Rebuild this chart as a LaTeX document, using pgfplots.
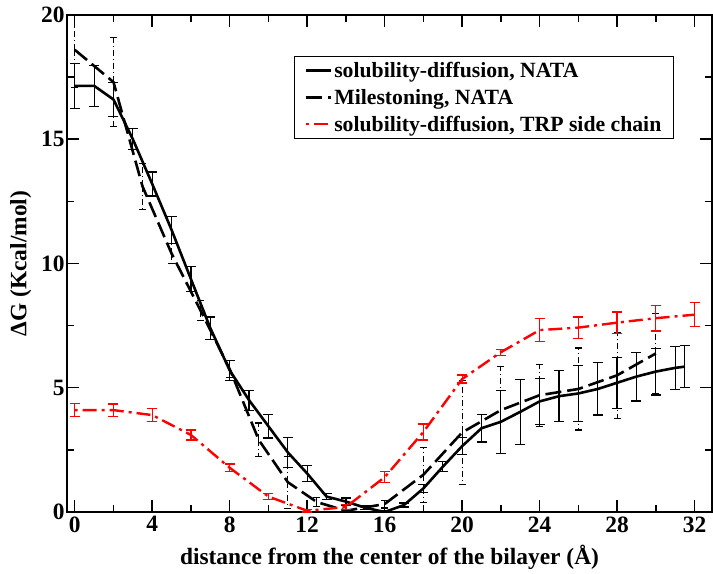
\documentclass[border=0pt]{standalone}
\usepackage{pgfplots}
\pgfplotsset{compat=1.18}
\usepackage{fontspec}
\setmainfont{Liberation Serif}
\begin{document}
\begin{tikzpicture}
\path (-67bp,-62bp) rectangle (646bp,512bp);
\begin{axis}[
  at={(0,0)}, anchor=south west,
  width=645bp, height=497bp, scale only axis,
  xmin=-0.4, xmax=32.9, ymin=0, ymax=20,
  xtick={0,4,...,32}, ytick={0,5,...,20},
  minor xtick={2,6,...,30}, minor ytick={2.5,7.5,12.5,17.5},
  tick align=inside, major tick length=12bp, minor tick length=7bp,
  every tick/.style={line width=1.5bp, black},
  axis line style={line width=2bp},
  /pgf/number format/assume math mode=true,
  tick label style={font=\bfseries\fontsize{23.5}{23.5}\selectfont},
  xticklabel style={yshift=-1bp},
  yticklabel style={xshift=1bp},
  label style={font=\bfseries\fontsize{23.5}{23.5}\selectfont},
  xlabel={distance from the center of the bilayer (Å)},
  ylabel={ΔG (Kcal/mol)},
  xlabel style={at={(axis description cs:0.5,0)}, anchor=north, yshift=-30bp},
  ylabel style={at={(axis description cs:0,0.5)}, anchor=south, yshift=32bp},
  legend style={at={(0.352,0.918)}, anchor=north west, draw=black, line width=1.3bp,
    font=\bfseries\fontsize{21.8}{21.8}\selectfont, row sep=6bp, inner xsep=10bp, inner ysep=4bp},
  legend cell align=left,
  legend image code/.code={\draw[#1] (0bp,0bp) -- (25bp,0bp);},
]
\addplot[black, line width=2.6bp, solid,
  error bars/.cd, y dir=both, y explicit,
  error bar style={line width=1.2bp, solid},
  error mark options={rotate=90, line width=1.2bp, mark size=5bp, solid}]
coordinates {
(0,17.15) +- (0,0.9)
(1,17.15) +- (0,0.83)
(2,16.6) +- (0,0.67)
(3,15.0) +- (0,0.42)
(4,13.2) +- (0,0.48)
(5,11.35) +- (0,0.55)
(6,9.37) +- (0,0.5)
(7,7.4) +- (0,0.45)
(8,5.7) +- (0,0.4)
(9,4.5) +- (0,0.4)
(10,3.45) +- (0,0.47)
(11,2.4) +- (0,0.6)
(12,1.55) +- (0,0.33)
(13,0.62) +- (0,0.12)
(14,0.42) +- (0,0.14)
(15,0.17) +- (0,0.08)
(16,0.0) +- (0,0.05)
(17,0.28) +- (0,0.08)
(18,0.95) +- (0,0.15)
(19,1.82) +- (0,0.2)
(20,2.65) +- (0,0.35)
(21,3.37) +- (0,0.55)
(22,3.63) +- (0,1.27)
(23,4.03) +- (0,1.31)
(24,4.45) +- (0,0.93)
(25,4.66) +- (0,1.03)
(26,4.77) +- (0,1.12)
(27,4.95) +- (0,1.05)
(28,5.2) +- (0,1.02)
(29,5.45) +- (0,0.98)
(30,5.65) +- (0,0.94)
(31,5.8) +- (0,0.87)
(31.5,5.85) +- (0,0.85)
};
\addlegendentry{solubility-diffusion, NATA}
\addplot[black, line width=2.6bp, dash pattern=on 16bp off 6bp,
  error bars/.cd, y dir=both, y explicit,
  error bar style={line width=1.1bp, dash pattern=on 6bp off 3bp on 1bp off 3bp},
  error mark options={rotate=90, line width=1.1bp, mark size=3.5bp, solid}]
coordinates {
(0,18.6) +- (0,1.5)
(2,17.3) +- (0,1.8)
(3.5,13.1) +- (0,0.92)
(5,10.4) +- (0,0.4)
(6.5,8.1) +- (0,0.4)
(8,5.75) +- (0,0.33)
(9.5,2.9) +- (0,0.68)
(11,1.2) +- (0,1.05)
(12.5,0.4) +- (0,0.18)
(14,0.05) +- (0,0.05)
(16,0.32) +- (0,0.16)
(18,1.5) +- (0,1.1)
(20,3.2) +- (0,2.1)
(22,4.1) +- (0,1.75)
(24,4.7) +- (0,1.25)
(26,4.95) +- (0,1.65)
(28,5.5) +- (0,1.72)
(30,6.38) +- (0,1.62)
};
\addlegendentry{Milestoning, NATA}
\addplot[red, line width=2.4bp, dash pattern=on 14bp off 5bp on 3bp off 5bp, dash phase=19bp,
  error bars/.cd, y dir=both, y explicit,
  error bar style={line width=1.2bp, solid},
  error mark options={rotate=90, line width=1.2bp, mark size=5bp, solid}]
coordinates {
(0,4.1) +- (0,0.27)
(2,4.1) +- (0,0.25)
(4,3.9) +- (0,0.27)
(6,3.1) +- (0,0.2)
(8,1.78) +- (0,0.15)
(10,0.62) +- (0,0.12)
(12,0.05) +- (0,0.05)
(14,0.2) +- (0,0.1)
(16,1.4) +- (0,0.22)
(18,3.22) +- (0,0.32)
(20,5.35) +- (0,0.16)
(22,6.43) +- (0,0.12)
(24,7.32) +- (0,0.47)
(26,7.42) +- (0,0.43)
(28,7.62) +- (0,0.43)
(30,7.8) +- (0,0.52)
(32,7.94) +- (0,0.48)
};
\addlegendentry{solubility-diffusion, TRP side chain}
\end{axis}
\end{tikzpicture}
\end{document}
